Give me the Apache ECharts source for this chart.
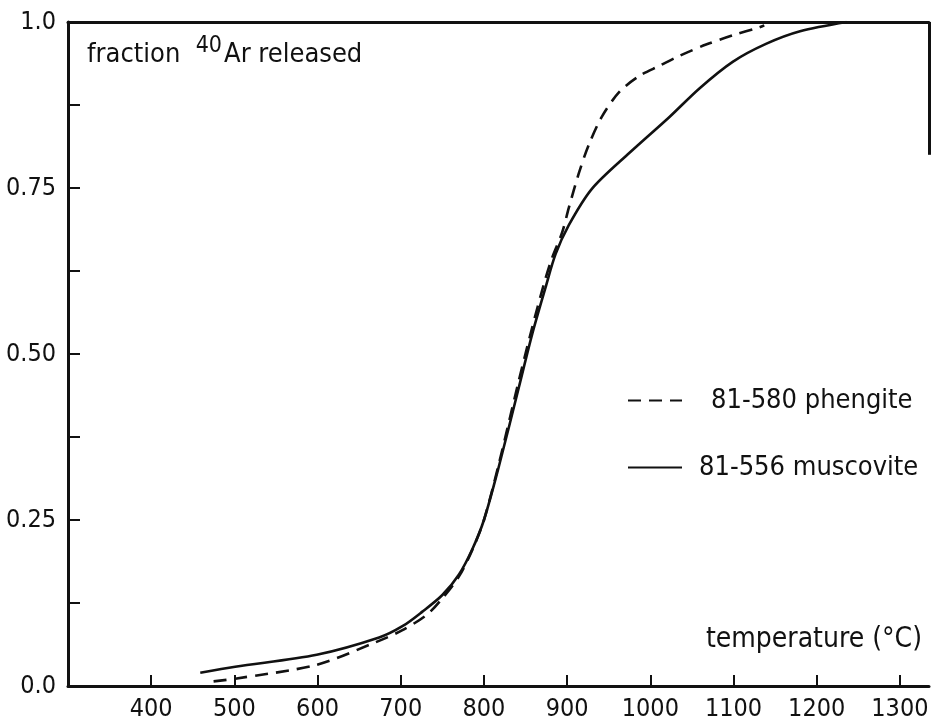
<!DOCTYPE html>
<html>
<head>
<meta charset="utf-8">
<title>Fraction of 40Ar released vs temperature</title>
<script src="https://cdn.jsdelivr.net/npm/echarts@6/dist/echarts.min.js"></script>
<style>
  html, body { margin: 0; padding: 0; background: #ffffff; overflow: hidden; }
  #chart { width: 931px; height: 725px; }
</style>
</head>
<body>
<div id="chart"></div>
<script>
// Step-heating release curves (temperature in °C, cumulative fraction of 40Ar released)
const phengiteName = '81-580 phengite';
const phengiteTemp = [475, 501, 599, 670, 702, 732, 750, 770, 786, 800, 818, 841, 857, 872, 882, 894, 902, 914, 926, 942, 963, 987, 1011, 1035, 1067, 1099, 1131, 1137];
const phengiteFrac = [0.007, 0.011, 0.032, 0.066, 0.084, 0.108, 0.132, 0.165, 0.205, 0.250, 0.335, 0.455, 0.535, 0.605, 0.645, 0.683, 0.720, 0.772, 0.815, 0.858, 0.895, 0.919, 0.934, 0.949, 0.966, 0.980, 0.992, 0.995];

const muscoviteName = '81-556 muscovite';
const muscoviteTemp = [459, 501, 599, 674, 702, 726, 750, 770, 786, 800, 818, 842, 858, 874, 886, 902, 930, 975, 1023, 1059, 1099, 1139, 1180, 1236];
const muscoviteFrac = [0.020, 0.029, 0.047, 0.073, 0.090, 0.112, 0.137, 0.168, 0.206, 0.250, 0.331, 0.450, 0.530, 0.600, 0.650, 0.694, 0.749, 0.803, 0.857, 0.900, 0.940, 0.967, 0.986, 1.000];

// Axis ticks and labels
const xTickValues = [400, 500, 600, 700, 800, 900, 1000, 1100, 1200, 1300];
const yTickValues = [0.125, 0.25, 0.375, 0.5, 0.625, 0.75, 0.875];
const yLabelValues = [0, 0.25, 0.5, 0.75, 1];
const yLabelTexts = ['0.0', '0.25', '0.50', '0.75', '1.0'];

const FONT = "'Liberation Sans Narrow', 'DejaVu Sans Condensed', 'Liberation Sans', sans-serif";
const INK = '#111111';

const toPairs = (xs, ys) => xs.map((x, i) => [x, ys[i]]);

const chart = echarts.init(document.getElementById('chart'), null, { renderer: 'canvas' });

chart.setOption({
  backgroundColor: '#ffffff',
  animation: false,
  textStyle: { fontFamily: FONT, color: INK },
  title: {
    left: 82,
    top: 30,
    text: '{t|fraction}   {s|40}{t|Ar released}',
    textStyle: {
      fontWeight: 'normal',
      rich: {
        t: { fontFamily: FONT, fontSize: 27, fontWeight: 'normal', color: INK },
        s: { fontFamily: FONT, fontSize: 23, fontWeight: 'normal', color: INK, padding: [0, 2, 16, 0] }
      }
    }
  },
  legend: {
    orient: 'vertical',
    left: 622,
    top: 382,
    itemWidth: 54,
    itemHeight: 14,
    itemGap: 40,
    data: [phengiteName, muscoviteName],
    itemStyle: { opacity: 0 },
    formatter: name => name === phengiteName ? '{a|' + name + '}' : '{b|' + name + '}',
    textStyle: {
      fontFamily: FONT,
      fontSize: 27,
      color: INK,
      rich: {
        a: { fontFamily: FONT, fontSize: 27, color: INK, padding: [0, 0, 0, 24] },
        b: { fontFamily: FONT, fontSize: 27, color: INK, padding: [0, 0, 0, 12] }
      }
    }
  },
  graphic: [
    {
      type: 'text',
      right: 9,
      top: 626,
      style: { text: 'temperature (°C)', font: '28px ' + FONT, fill: INK }
    }
  ],
  grid: { left: 68, right: 2, top: 22, bottom: 39, containLabel: false, outerBoundsMode: 'none' },
  xAxis: [
    {
      type: 'value',
      min: 300,
      max: 1335,
      axisLine: { show: true, onZero: false, lineStyle: { color: INK, width: 3 } },
      axisTick: { show: true, inside: true, length: 11, customValues: xTickValues, lineStyle: { color: INK, width: 2 } },
      axisLabel: {
        show: true,
        margin: 11,
        customValues: xTickValues,
        fontFamily: FONT,
        fontSize: 25,
        color: INK,
        formatter: v => String(v)
      },
      splitLine: { show: false }
    },
    {
      type: 'value',
      position: 'top',
      min: 300,
      max: 1335,
      axisLine: { show: true, onZero: false, lineStyle: { color: INK, width: 3 } },
      axisTick: { show: false },
      axisLabel: { show: false },
      splitLine: { show: false }
    }
  ],
  yAxis: {
    type: 'value',
    min: 0,
    max: 1,
    axisLine: { show: true, onZero: false, lineStyle: { color: INK, width: 3 } },
    axisTick: { show: true, inside: true, length: 12, customValues: yTickValues, lineStyle: { color: INK, width: 2 } },
    axisLabel: {
      show: true,
      margin: 12,
      customValues: yLabelValues,
      fontFamily: FONT,
      fontSize: 25,
      color: INK,
      formatter: v => {
        const i = yLabelValues.findIndex(u => Math.abs(u - v) < 1e-9);
        return i >= 0 ? yLabelTexts[i] : '';
      }
    },
    splitLine: { show: false }
  },
  series: [
    {
      name: phengiteName,
      type: 'line',
      xAxisIndex: 0,
      data: toPairs(phengiteTemp, phengiteFrac),
      smooth: 0.3,
      symbol: 'none',
      lineStyle: { color: INK, width: 2.6, type: [13, 8] },
      itemStyle: { color: INK }
    },
    {
      name: muscoviteName,
      type: 'line',
      xAxisIndex: 0,
      data: toPairs(muscoviteTemp, muscoviteFrac),
      smooth: 0.3,
      symbol: 'none',
      lineStyle: { color: INK, width: 2.6, type: 'solid' },
      itemStyle: { color: INK },
      // short right-hand frame segment at the upper corner
      markLine: {
        silent: true,
        symbol: 'none',
        label: { show: false },
        lineStyle: { color: INK, width: 3, type: 'solid' },
        data: [[{ coord: [1335, 1] }, { coord: [1335, 0.8] }]]
      }
    }
  ]
});
</script>
</body>
</html>
